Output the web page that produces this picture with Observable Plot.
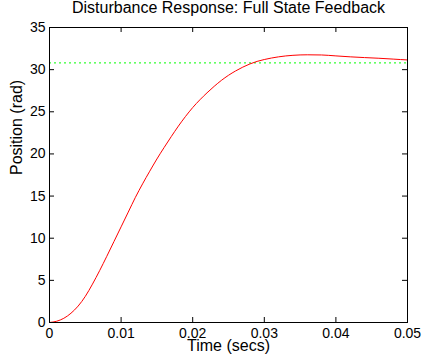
<!DOCTYPE html>
<html><head><meta charset="utf-8">
<script src="https://cdn.jsdelivr.net/npm/d3@7"></script>
<script src="https://cdn.jsdelivr.net/npm/@observablehq/plot@0.6"></script>
<style>body{margin:0;background:#fff} svg{display:block}</style>
</head><body><div id="chart"></div>
<script>
const title = "Disturbance Response: Full State Feedback";
const xLabel = "Time (secs)";
const yLabel = "Position (rad)";
const time = [0, 0.001, 0.002, 0.003, 0.004, 0.005, 0.006, 0.007, 0.008, 0.009, 0.010,
  0.011, 0.012, 0.013, 0.014, 0.015, 0.016, 0.017, 0.018, 0.019, 0.020,
  0.021, 0.022, 0.023, 0.024, 0.025, 0.026, 0.027, 0.028, 0.029, 0.030,
  0.032, 0.034, 0.036, 0.038, 0.040, 0.042, 0.044, 0.046, 0.048, 0.050];
const position = [0, 0.15, 0.5, 1.1, 1.95, 3.1, 4.55, 6.15, 7.85, 9.6, 11.35,
  13.1, 14.85, 16.45, 17.95, 19.4, 20.75, 22.05, 23.3, 24.45, 25.5,
  26.42, 27.25, 28.02, 28.72, 29.33, 29.85, 30.3, 30.68, 30.98, 31.2,
  31.52, 31.7, 31.76, 31.74, 31.63, 31.52, 31.43, 31.35, 31.25, 31.15];
const reference = [30.8];
const xTicks = [0, 0.01, 0.02, 0.03, 0.04, 0.05];
const xTickLabels = ["0", "0.01", "0.02", "0.03", "0.04", "0.05"];
const yTicks = [0, 5, 10, 15, 20, 25, 30, 35];
const yTickLabels = ["0", "5", "10", "15", "20", "25", "30", "35"];

const W = 437, H = 359, mL = 49, mR = 30, mT = 27, mB = 37;
const pw = W - mL - mR, ph = H - mT - mB, tk = 5;
const data = time.map((t, i) => ({t, v: position[i]}));

const chart = Plot.plot({
  width: W, height: H,
  marginLeft: mL, marginRight: mR, marginTop: mT, marginBottom: mB,
  style: {fontFamily: "'Liberation Sans', Arial, Helvetica, sans-serif", fontSize: "14px", background: "#fff", color: "#000"},
  x: {domain: [0, 0.05]},
  y: {domain: [0, 35]},
  marks: [
    Plot.ruleY(reference, {y: d => d, stroke: "#00ff00", strokeDasharray: "2,3"}),
    Plot.line(data, {x: "t", y: "v", stroke: "#ff0000", strokeWidth: 1, curve: "monotone-x"}),
    Plot.frame({stroke: "#000"}),
    Plot.tickX(xTicks, {x: d => d, insetTop: ph - tk, stroke: "#000"}),
    Plot.tickX(xTicks, {x: d => d, insetBottom: ph - tk, stroke: "#000"}),
    Plot.tickY(yTicks, {y: d => d, insetRight: pw - tk, stroke: "#000"}),
    Plot.tickY(yTicks, {y: d => d, insetLeft: pw - tk, stroke: "#000"}),
    Plot.axisX(xTicks, {tickSize: 0, tickPadding: 6, fontSize: 14, label: null,
      tickFormat: d => xTickLabels[xTicks.indexOf(d)]}),
    Plot.axisY(yTicks, {tickSize: 0, tickPadding: 4, fontSize: 14, label: null,
      tickFormat: d => yTickLabels[yTicks.indexOf(d)]}),
    Plot.text([title], {frameAnchor: "top", dy: -15, lineAnchor: "bottom", fontSize: 16, text: d => d}),
    Plot.text([xLabel], {frameAnchor: "bottom", dy: 28, lineAnchor: "bottom", fontSize: 16, text: d => d}),
    Plot.text([yLabel], {frameAnchor: "left", dx: -28, rotate: -90, lineAnchor: "bottom", fontSize: 16, text: d => d})
  ]
});
document.getElementById("chart").append(chart);
</script>
</body></html>
